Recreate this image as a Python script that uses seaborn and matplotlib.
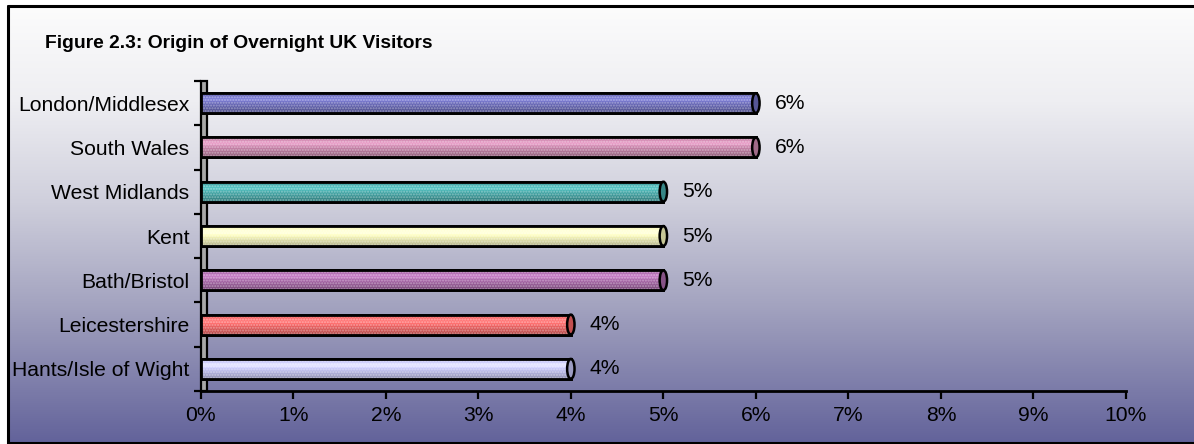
import numpy as np
import matplotlib
matplotlib.use("Agg")
import matplotlib.pyplot as plt
import matplotlib.colors as mcolors
from matplotlib.patches import Ellipse, Rectangle
from matplotlib.lines import Line2D
import seaborn as sns

# Data
regions = ["London/Middlesex", "South Wales", "West Midlands", "Kent",
           "Bath/Bristol", "Leicestershire", "Hants/Isle of Wight"]
share_pct = [6, 6, 5, 5, 5, 4, 4]
bar_colors = ["#6b6bbb", "#c884aa", "#44a8a8", "#f8f8bc",
              "#a866a8", "#f26464", "#c4c4f4"]
x_ticks = list(range(0, 11))
x_tick_labels = [f"{t}%" for t in x_ticks]
title = "Figure 2.3: Origin of Overnight UK Visitors"

sns.set_theme(style="white")
plt.rcParams["font.family"] = ["Liberation Sans", "DejaVu Sans"]

W, H = 1194, 444
FS = 15.2
fig = plt.figure(figsize=(W / 100, H / 100), dpi=100)
fig.patch.set_facecolor("white")

# Background panel with vertical gradient (white at top to slate blue at bottom)
bg = fig.add_axes([8 / W, 0, 1.02 - 8 / W, 1 - 6 / H], zorder=0)
stops_y = np.array([0.0, 0.22, 0.45, 0.68, 1.0])
stops_c = np.array([mcolors.to_rgb(c) for c in
                    ["#fcfcfc", "#eeeef2", "#cfcfdc", "#a4a4c0", "#62629a"]])
yy = np.linspace(0, 1, 400)
grad = np.stack([np.interp(yy, stops_y, stops_c[:, k]) for k in range(3)], axis=-1)
bg.imshow(grad[:, None, :], aspect="auto", extent=[0, 1, 0, 1], origin="upper")
bg.set_axis_off()

# Panel border (left, top, bottom)
for xs, ys in [([8 / W, 8 / W], [0, 1 - 6 / H]),
               ([8 / W, 1.02], [1 - 6 / H, 1 - 6 / H]),
               ([8 / W, 1.02], [0.8 / H, 0.8 / H])]:
    fig.add_artist(Line2D(xs, ys, transform=fig.transFigure, color="black",
                          lw=2.2, zorder=5))

fig.text(45 / W, 1 - 43 / H, title, fontsize=13.9, fontweight="bold",
         ha="left", va="center", color="black")

# Main axes
ax = fig.add_axes([200.7 / W, 1 - 391 / H, (1126 - 200.7) / W, (391 - 81) / H],
                  zorder=2)
ax.patch.set_alpha(0)

sns.barplot(x=share_pct, y=regions, hue=regions, palette=bar_colors,
            orient="h", width=0.45, legend=False, ax=ax,
            edgecolor="black", linewidth=2.0, saturation=1)

ax.set_xlim(0, 10)
ax.set_ylim(6.5, -0.5)

# Side wall of the chart
ax.add_patch(Rectangle((0, -0.5), 0.065, 7.0, facecolor="#a8a8a8",
                       edgecolor="black", lw=1.6, zorder=1, clip_on=False))

# Cylinder shading on each bar plus an end cap
for patch, val, col in zip(ax.patches[:len(share_pct)], share_pct, bar_colors):
    patch.set_zorder(3)
    x0, y0 = patch.get_x(), patch.get_y()
    w, h = patch.get_width(), patch.get_height()
    base = np.array(mcolors.to_rgb(col))
    t = np.linspace(0, 1, 40)  # top -> bottom of bar
    shade = np.interp(t, [0, 0.3, 1], [0.95, 1.12, 0.72])
    rows = np.clip(base[None, :] * shade[:, None] + (shade[:, None] > 1.05) * 0.04, 0, 1)
    im = ax.imshow(rows[:, None, :], aspect="auto",
                   extent=[x0, x0 + w, y0 + h, y0], origin="upper", zorder=3.5)
    im.set_clip_path(patch)
    # fine dotted texture
    ax.barh(patch.get_y() + h / 2, w, left=x0, height=h, facecolor="none",
            edgecolor=(1, 1, 1, 0.35), hatch="......", lw=0, zorder=3.6)
    # outline on top
    ax.add_patch(Rectangle((x0, y0), w, h, facecolor="none", edgecolor="black",
                           lw=2.0, zorder=3.8))
    cap = np.clip(base * 0.8, 0, 1)
    ax.add_patch(Ellipse((x0 + w, y0 + h / 2), 0.08, h, facecolor=cap,
                         edgecolor="black", lw=1.8, zorder=4))
    ax.text(val + 0.2, y0 + h / 2, f"{val}%", ha="left", va="center",
            fontsize=FS, color="black", zorder=5)

ax.set_xlim(0, 10)
ax.set_ylim(6.5, -0.5)

# Axes styling
for s in ["top", "right", "left"]:
    ax.spines[s].set_visible(False)
ax.spines["bottom"].set_color("black")
ax.spines["bottom"].set_linewidth(2.0)
ax.spines["bottom"].set_zorder(6)

ax.set_xticks(x_ticks)
ax.set_xticklabels(x_tick_labels)
ax.tick_params(axis="x", direction="out", length=6, width=1.6, color="black",
               labelsize=FS, pad=5, bottom=True)
ax.set_yticks(range(len(regions)))
ax.set_yticklabels(regions)
ax.tick_params(axis="y", which="major", length=0, labelsize=FS, pad=8, left=True)
ax.set_yticks(np.arange(-0.5, len(regions), 1.0), minor=True)
ax.tick_params(axis="y", which="minor", direction="out", length=5, width=1.6,
               color="black", left=True)
for lab in ax.get_xticklabels() + ax.get_yticklabels():
    lab.set_color("black")
ax.set_xlabel("")
ax.set_ylabel("")
ax.grid(False)

fig.savefig("out.png", dpi=100)
